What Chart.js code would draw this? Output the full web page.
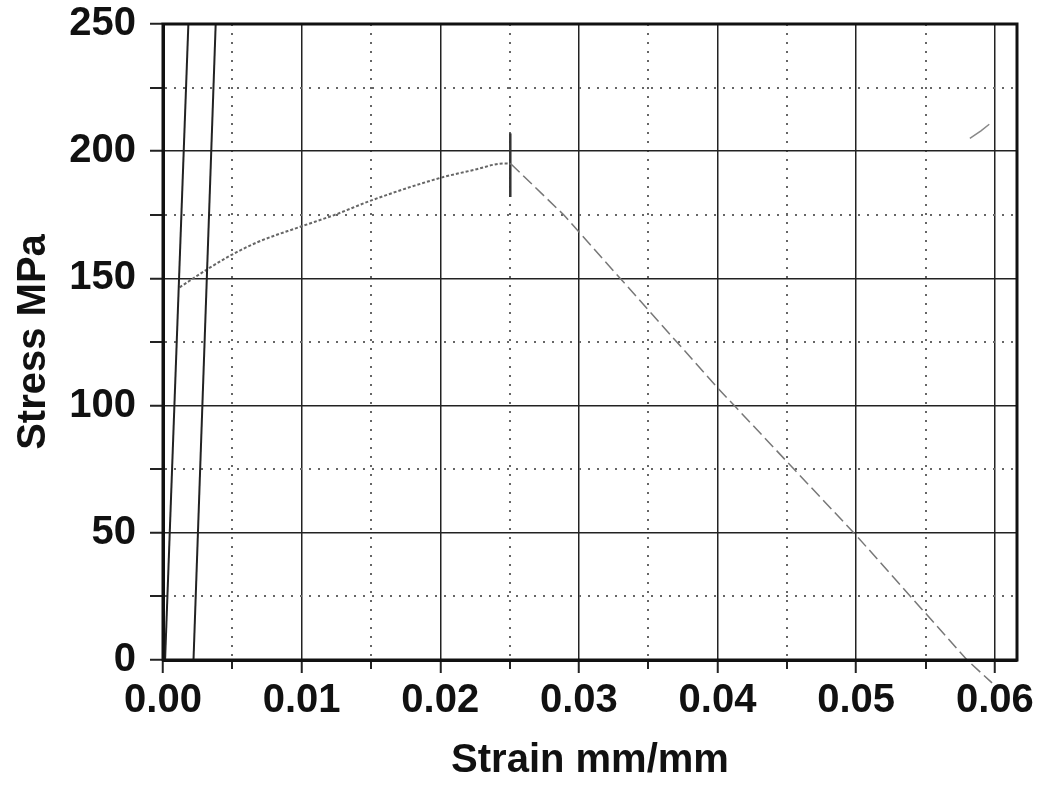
<!DOCTYPE html>
<html>
<head>
    <title>Stress Strain</title>
    <script src="https://cdn.jsdelivr.net/npm/chart.js@4.4.0/dist/chart.umd.min.js"></script>
    <style>
        html, body { margin: 0; padding: 0; background: #fff; }
    </style>
</head>
<body>
<canvas id="stressChart" width="1048" height="785"></canvas>
<script>
    // tick positions (strain, stress)
    const xTickValues = [0, 0.005, 0.01, 0.015, 0.02, 0.025, 0.03, 0.035, 0.04, 0.045, 0.05, 0.055, 0.06];
    const yTickValues = [0, 25, 50, 75, 100, 125, 150, 175, 200, 225, 250];

    // elastic modulus line and the 0.2% offset line
    const elasticStrain = [0.00015, 0.00183];
    const elasticStress = [0, 250];
    const offsetStrain = [0.0022, 0.0038];
    const offsetStress = [0, 250];

    // plastic part of the curve, knee -> peak
    const plasticStrain = [0.0012, 0.0032, 0.0048, 0.0068, 0.0099, 0.0125, 0.0149, 0.02, 0.0224, 0.0246, 0.0251];
    const plasticStress = [146.5, 153.6, 158.8, 164.2, 170.3, 175.2, 180.4, 189.5, 192.6, 195.2, 195];

    // unloading / fracture line after the peak
    const dropStrain = [0.0251, 0.0289, 0.04, 0.05, 0.058, 0.0598];
    const dropStress = [195, 175, 107, 49, 0, -9];

    // mark at the peak
    const peakStrain = [0.02505, 0.02505];
    const peakStress = [182, 207];

    // stray trace in the top right corner
    const strayStrain = [0.0582, 0.059, 0.0596];
    const strayStress = [205, 208, 210.6];

    function pts(xs, ys) {
        return xs.map((x, i) => ({ x: x, y: ys[i] }));
    }

    function isMajorX(v) { return Math.round(v * 1000) % 10 === 0; }
    function isMajorY(v) { return Math.round(v) % 50 === 0; }

    const frame = {
        id: 'frame',
        afterDraw(chart) {
            const a = chart.chartArea;
            const ctx = chart.ctx;
            ctx.save();
            ctx.strokeStyle = '#111';
            ctx.lineWidth = 3;
            ctx.strokeRect(a.left, a.top, a.right - a.left, a.bottom - a.top);
            ctx.restore();
        }
    };

    const font = { family: '"Liberation Sans", Arial, sans-serif', weight: 'bold', size: 40 };

    new Chart(document.getElementById('stressChart'), {
        type: 'line',
        data: {
            datasets: [
                { data: pts(elasticStrain, elasticStress), borderColor: '#222', borderWidth: 2 },
                { data: pts(offsetStrain, offsetStress), borderColor: '#222', borderWidth: 2 },
                { data: pts(plasticStrain, plasticStress), borderColor: '#666', borderWidth: 2, borderDash: [3, 2], cubicInterpolationMode: 'monotone' },
                { data: pts(dropStrain, dropStress), borderColor: '#777', borderWidth: 1.5, borderDash: [12, 5], clip: false },
                { data: pts(peakStrain, peakStress), borderColor: '#333', borderWidth: 2.5 },
                { data: pts(strayStrain, strayStress), borderColor: '#888', borderWidth: 1.5 }
            ]
        },
        options: {
            responsive: false,
            animation: false,
            devicePixelRatio: 1,
            layout: { padding: { left: 10, top: 24, right: 31, bottom: 0 } },
            elements: { point: { radius: 0 }, line: { tension: 0 } },
            plugins: { legend: { display: false }, tooltip: { enabled: false } },
            scales: {
                x: {
                    type: 'linear',
                    min: 0,
                    max: 0.0616,
                    afterBuildTicks: s => { s.ticks = xTickValues.map(v => ({ value: v })); },
                    afterFit: s => { s.height = 125; s.paddingLeft = 0; s.paddingRight = 0; },
                    ticks: {
                        autoSkip: false,
                        maxRotation: 0,
                        padding: 4,
                        color: '#111',
                        font: font,
                        callback: v => isMajorX(v) ? v.toFixed(2) : ''
                    },
                    grid: {
                        color: c => isMajorX(c.tick.value) ? '#222' : '#666',
                        lineWidth: c => isMajorX(c.tick.value) ? 1.5 : 2,
                        tickLength: 13,
                        tickColor: '#222',
                        tickWidth: 2,
                        tickBorderDash: c => isMajorX(c.tick.value) ? [] : [7, 100]
                    },
                    border: {
                        color: '#111',
                        width: 3,
                        dash: c => isMajorX(c.tick.value) ? [] : [2, 7]
                    },
                    title: { display: true, text: 'Strain mm/mm', color: '#111', font: font, padding: { top: 0, bottom: 0 } }
                },
                y: {
                    type: 'linear',
                    min: 0,
                    max: 250,
                    afterBuildTicks: s => { s.ticks = yTickValues.map(v => ({ value: v })); },
                    afterFit: s => { s.width = 153; s.paddingTop = 0; s.paddingBottom = 0; },
                    ticks: {
                        autoSkip: false,
                        padding: 14,
                        color: '#111',
                        font: font,
                        callback: v => isMajorY(v) ? String(v) : ''
                    },
                    grid: {
                        color: c => isMajorY(c.tick.value) ? '#222' : '#666',
                        lineWidth: c => isMajorY(c.tick.value) ? 1.5 : 2,
                        tickLength: 13,
                        tickColor: '#222',
                        tickWidth: 2
                    },
                    border: {
                        color: '#111',
                        width: 3,
                        dash: c => isMajorY(c.tick.value) ? [] : [2, 7]
                    },
                    title: { display: true, text: 'Stress MPa', color: '#111', font: font, padding: { top: 0, bottom: 0 } }
                }
            }
        },
        plugins: [frame]
    });
</script>
</body>
</html>
